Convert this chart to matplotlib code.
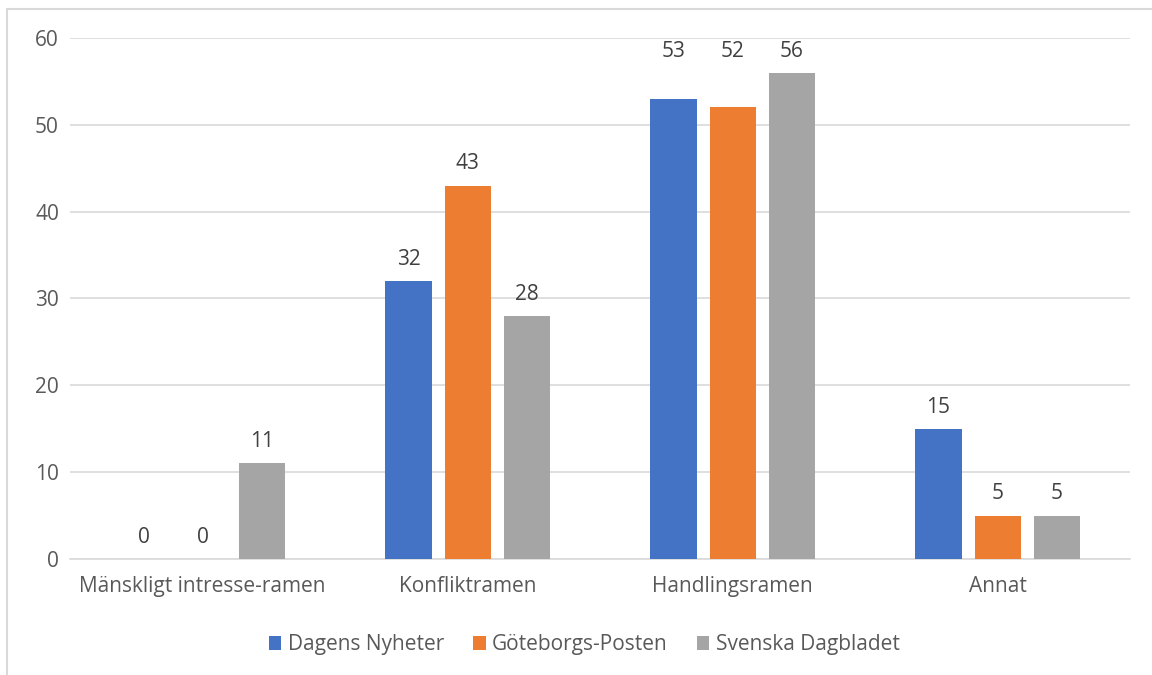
import numpy as np
import matplotlib.pyplot as plt
from matplotlib.patches import Rectangle

plt.rcParams["font.family"] = ["Open Sans", "DejaVu Sans"]

categories = ["Mänskligt intresse-ramen", "Konfliktramen", "Handlingsramen", "Annat"]
series_names = ["Dagens Nyheter", "Göteborgs-Posten", "Svenska Dagbladet"]
dagens_nyheter = [0, 32, 53, 15]
goteborgs_posten = [0, 43, 52, 5]
svenska_dagbladet = [11, 28, 56, 5]
colors = ["#4472C4", "#ED7D31", "#A5A5A5"]
text_color = "#595959"

all_series = [dagens_nyheter, goteborgs_posten, svenska_dagbladet]
# in the original the labels of Handlingsramen sit level with the tallest bar
label_at_group_max = [False, False, True, False]

fig = plt.figure(figsize=(11.52, 6.75), dpi=100)
ax = fig.add_axes([0.0608, 0.1719, 0.9202, 0.7718])

# light chart-area border (left and top only are visible in the crop)
fig.patches.append(Rectangle((7 / 1152, -0.1), 1.2, (675 - 9) / 675 + 0.1,
                             transform=fig.transFigure, fill=False,
                             edgecolor="#D9D9D9", linewidth=1.5))

x = np.arange(len(categories))
width = 0.174
step = 0.223
for i, (vals, name) in enumerate(zip(all_series, series_names)):
    pos = x + (i - 1) * step
    ax.bar(pos, vals, width, color=colors[i], label=name, zorder=3)
    for j, (p, v) in enumerate(zip(pos, vals)):
        ly = max(s[j] for s in all_series) if label_at_group_max[j] else v
        ax.annotate(str(v), (p, ly), xytext=(0, 8), textcoords="offset points",
                    ha="center", va="bottom", fontsize=15, color="#404040")

ax.set_xlim(-0.5, 3.5)
ax.set_ylim(0, 60)
ax.set_yticks(range(0, 61, 10))
ax.set_xticks(x)
ax.set_xticklabels(categories)
ax.tick_params(axis="both", length=0, labelsize=15, colors=text_color)
ax.tick_params(axis="x", pad=12)
ax.tick_params(axis="y", pad=8)
ax.grid(axis="y", color="#D9D9D9", linewidth=1.2, zorder=0)
for s in ["top", "right", "left"]:
    ax.spines[s].set_visible(False)
ax.spines["bottom"].set_color("#D9D9D9")
ax.spines["bottom"].set_linewidth(1.2)

leg = ax.legend(loc="center", bbox_to_anchor=(0.485, -0.165), ncol=3, frameon=False,
                fontsize=15, handlelength=0.6, handleheight=0.6, handletextpad=0.3,
                columnspacing=1.4)
for t in leg.get_texts():
    t.set_color(text_color)

fig.savefig("out.png", dpi=100)
